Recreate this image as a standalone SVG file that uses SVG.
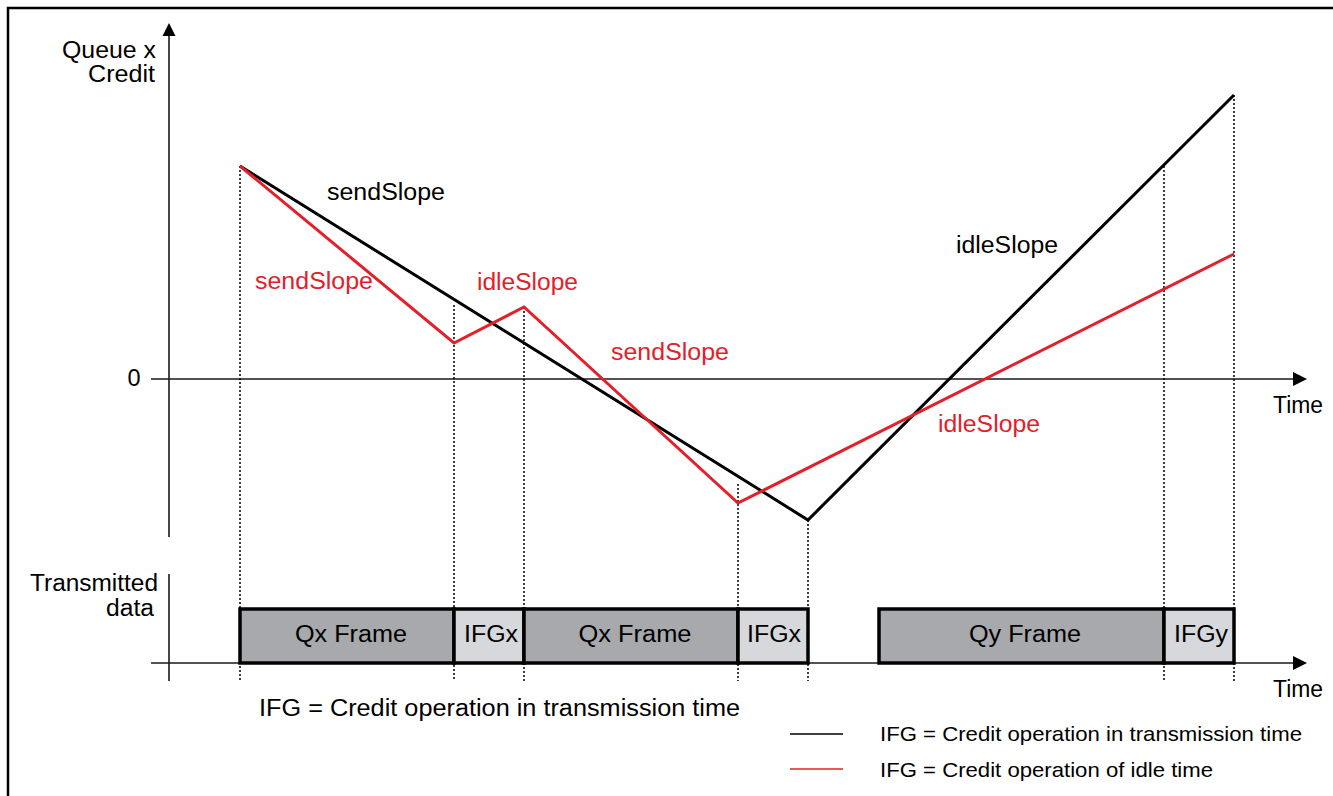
<svg xmlns="http://www.w3.org/2000/svg" width="1333" height="796" viewBox="0 0 1333 796">
<defs>
<style>
text{font-family:"Liberation Sans",Arial,Helvetica,sans-serif;font-size:23.5px;fill:#000}
.r{fill:#e3202a}
.lg{font-size:21px}
.axis{stroke:#1a1a1a;stroke-width:1.6;fill:none}
.dot{stroke:#000;stroke-width:1.5;stroke-dasharray:2 2;fill:none}
.blk{stroke:#000;stroke-width:3;fill:none;stroke-linejoin:miter}
.red{stroke:#e3202a;stroke-width:3;fill:none;stroke-linejoin:miter}
.fr{fill:#a7a9ac;stroke:#000;stroke-width:3.5}
.ifg{fill:#d6d8db;stroke:#000;stroke-width:3.5}
</style>
</defs>
<rect width="1333" height="796" fill="#fff"/>
<rect x="8" y="8" width="1345" height="810" fill="none" stroke="#000" stroke-width="2.5"/>

<g id="axes">
<line class="axis" x1="169" y1="34" x2="169" y2="537"/>
<polygon points="169,23 162.5,36 175.5,36" fill="#000"/>
<line class="axis" x1="151" y1="379" x2="1295" y2="379"/>
<polygon points="1307,379 1293,372 1293,386" fill="#000"/>
<line class="axis" x1="169" y1="574" x2="169" y2="681"/>
<line class="axis" x1="151" y1="663" x2="1295" y2="663"/>
<polygon points="1307,663 1293,656 1293,670" fill="#000"/>
<text x="156" y="58" text-anchor="end" textLength="94" lengthAdjust="spacingAndGlyphs">Queue x</text>
<text x="155" y="82" text-anchor="end" textLength="67" lengthAdjust="spacingAndGlyphs">Credit</text>
<text x="134" y="386" text-anchor="middle">0</text>
<text x="1273" y="413" textLength="50" lengthAdjust="spacingAndGlyphs">Time</text>
<text x="1273" y="697" textLength="50" lengthAdjust="spacingAndGlyphs">Time</text>
<text x="158" y="591" text-anchor="end" font-size="22" textLength="128" lengthAdjust="spacingAndGlyphs">Transmitted</text>
<text x="154" y="616" text-anchor="end" font-size="22" textLength="48" lengthAdjust="spacingAndGlyphs">data</text>
</g>

<g id="guides">
<line class="dot" x1="240" y1="166" x2="240" y2="681"/>
<line class="dot" x1="454" y1="305" x2="454" y2="681"/>
<line class="dot" x1="524" y1="307" x2="524" y2="681"/>
<line class="dot" x1="738" y1="484" x2="738" y2="681"/>
<line class="dot" x1="808" y1="520" x2="808" y2="681"/>
<line class="dot" x1="1164" y1="166" x2="1164" y2="681"/>
<line class="dot" x1="1234" y1="95" x2="1234" y2="681"/>
</g>

<g id="connectors">
<polyline class="blk" points="240,166 808,520 1234,95"/>
<polyline class="red" points="240,166 454,343 524,307 738,503 1234,254"/>
</g>

<g id="slope-labels">
<text x="327" y="200" textLength="118" lengthAdjust="spacingAndGlyphs">sendSlope</text>
<text class="r" x="255" y="289" textLength="118" lengthAdjust="spacingAndGlyphs">sendSlope</text>
<text class="r" x="477" y="290" textLength="101" lengthAdjust="spacingAndGlyphs">idleSlope</text>
<text class="r" x="611" y="360" textLength="118" lengthAdjust="spacingAndGlyphs">sendSlope</text>
<text x="956" y="253" textLength="102" lengthAdjust="spacingAndGlyphs">idleSlope</text>
<text class="r" x="938" y="432" textLength="102" lengthAdjust="spacingAndGlyphs">idleSlope</text>
</g>

<g id="frame-qx1"><rect class="fr" x="240" y="609" width="214" height="54"/><text x="351" y="642" text-anchor="middle" textLength="112" lengthAdjust="spacingAndGlyphs">Qx Frame</text></g>
<g id="ifg-x1"><rect class="ifg" x="454" y="609" width="70" height="54"/><text x="491" y="642" text-anchor="middle" textLength="54" lengthAdjust="spacingAndGlyphs">IFGx</text></g>
<g id="frame-qx2"><rect class="fr" x="524" y="609" width="214" height="54"/><text x="635" y="642" text-anchor="middle" textLength="113" lengthAdjust="spacingAndGlyphs">Qx Frame</text></g>
<g id="ifg-x2"><rect class="ifg" x="738" y="609" width="70" height="54"/><text x="774" y="642" text-anchor="middle" textLength="54" lengthAdjust="spacingAndGlyphs">IFGx</text></g>
<g id="frame-qy"><rect class="fr" x="879" y="609" width="285" height="54"/><text x="1025" y="642" text-anchor="middle" textLength="112" lengthAdjust="spacingAndGlyphs">Qy Frame</text></g>
<g id="ifg-y"><rect class="ifg" x="1164" y="609" width="70" height="54"/><text x="1201" y="642" text-anchor="middle" textLength="54" lengthAdjust="spacingAndGlyphs">IFGy</text></g>

<g id="note">
<text x="259" y="716" textLength="481" lengthAdjust="spacingAndGlyphs">IFG = Credit operation in transmission time</text>
</g>

<g id="legend">
<line x1="790" y1="734" x2="843" y2="734" stroke="#000" stroke-width="1.5"/>
<text class="lg" x="880" y="741" textLength="422" lengthAdjust="spacingAndGlyphs">IFG = Credit operation in transmission time</text>
<line x1="790" y1="769" x2="843" y2="769" stroke="#e3202a" stroke-width="1.5"/>
<text class="lg" x="880" y="777" textLength="333" lengthAdjust="spacingAndGlyphs">IFG = Credit operation of idle time</text>
</g>
</svg>
